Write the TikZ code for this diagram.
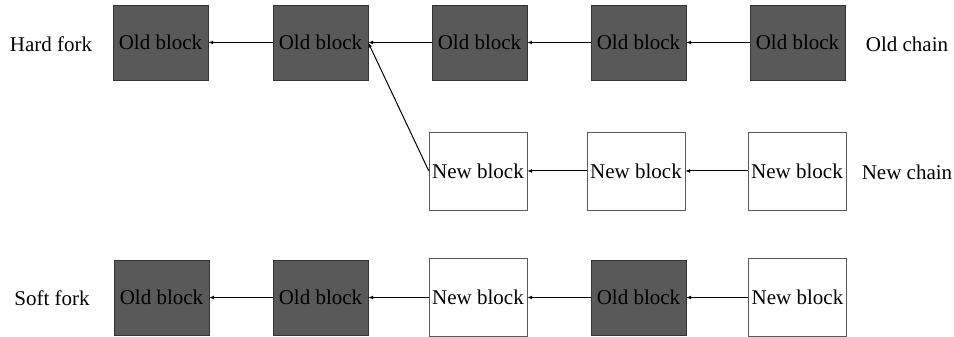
\documentclass[tikz,border=0pt]{standalone}
\usepackage{fontspec}
\setmainfont{Liberation Serif}
\usetikzlibrary{arrows.meta,positioning}

\tikzset{
	oldblock/.style={draw=black!80, fill=black!65, minimum width=95pt, minimum height=75pt, inner sep=0pt},
	newblock/.style={draw=black!65, fill=white, minimum width=98pt, minimum height=78pt, inner sep=0pt},
	link/.style={-{Latex[length=5pt,width=4pt]}, line width=1pt},
	chainlabel/.style={inner sep=0pt}
}

\begin{document}
\begin{tikzpicture}[x=1pt, y=1pt, font=\fontsize{21}{25}\selectfont]
	\useasboundingbox (0,0) rectangle (954,337);
	% hard fork, old chain
	\node[oldblock] (o1) at (160.5,294.5) {Old block};
	\node[oldblock] (o2) at (320.5,294.5) {Old block};
	\node[oldblock] (o3) at (479.5,294.5) {Old block};
	\node[oldblock] (o4) at (638.5,294.5) {Old block};
	\node[oldblock] (o5) at (797.5,294.5) {Old block};
	\node[chainlabel] (hard) at (51,293) {Hard fork};
	\node[chainlabel] (oldchain) at (907,293) {Old chain};
	% hard fork, new chain
	\node[newblock] (n1) at (478,166) {New block};
	\node[newblock] (n2) at (636,166) {New block};
	\node[newblock] (n3) at (797,166) {New block};
	\node[chainlabel] (newchain) at (907,165) {New chain};
	% soft fork
	\node[oldblock] (s1) at (161.5,39.5) {Old block};
	\node[oldblock] (s2) at (320.5,39.5) {Old block};
	\node[newblock] (s3) at (478,39.5) {New block};
	\node[oldblock] (s4) at (638.5,39.5) {Old block};
	\node[newblock] (s5) at (797.5,39.5) {New block};
	\node[chainlabel] (soft) at (52,39) {Soft fork};

	\draw[link] (o2.west) -- (o1.east);
	\draw[link] (o3.west) -- (o2.east);
	\draw[link] (o4.west) -- (o3.east);
	\draw[link] (o5.west) -- (o4.east);
	\draw[link] (n1.west) -- (o2.east);
	\draw[link] (n2.west) -- (n1.east);
	\draw[link] (n3.west) -- (n2.east);
	\draw[link] (s2.west) -- (s1.east);
	\draw[link] (s3.west) -- (s2.east);
	\draw[link] (s4.west) -- (s3.east);
	\draw[link] (s5.west) -- (s4.east);
\end{tikzpicture}
\end{document}
